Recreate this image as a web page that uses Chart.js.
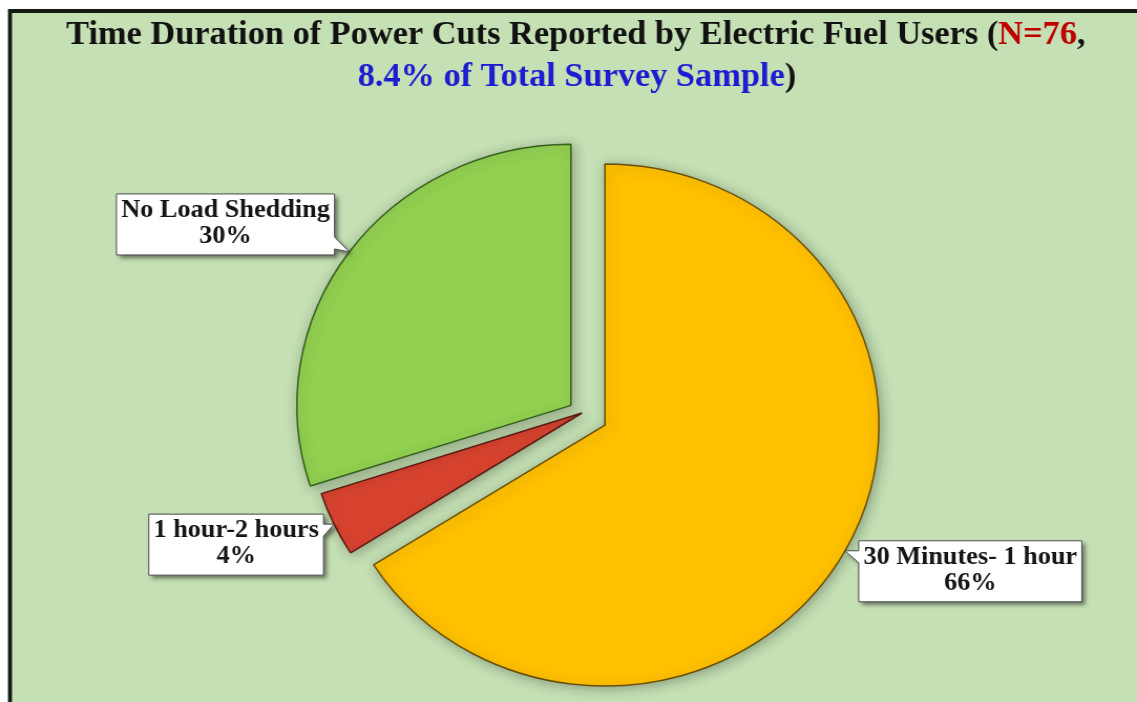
<!DOCTYPE html>
<html>
<head>
<meta charset="utf-8">
<title>Time Duration of Power Cuts</title>
<script src="https://cdn.jsdelivr.net/npm/chart.js@4.4.1/dist/chart.umd.min.js"></script>
<style>
  html, body { margin: 0; padding: 0; background: #ffffff; overflow: hidden; }
</style>
</head>
<body>
<canvas id="chart" width="1083" height="702" style="display:block;width:1137px;height:702px"></canvas>
<script>
// Survey answers: how long power cuts last for electric fuel users
const categories = ['30 Minutes- 1 hour', '1 hour-2 hours', 'No Load Shedding'];
const shares = [66, 4, 30];

// Title pieces (text, colour)
const titleLine1 = [
  ['Time Duration of Power Cuts Reported by Electric Fuel Users (', '#111111'],
  ['N=76', '#c00000'],
  [',', '#111111']
];
const titleLine2 = [
  ['8.4% of Total Survey Sample', '#1c1cd2'],
  [')', '#111111']
];

// Styling
const sliceColors = ['#ffc000', '#d8432f', '#92d050'];
const sliceEdges = ['#6a5006', '#5e1a12', '#36601d'];
const explodeBy = [25, 0, 13];          // how far each slice is pulled out, px
const calloutPlacement = [              // box position relative to the pointer tip
  { side: 'right', dx: 13, dy: -10 },
  { side: 'left', dx: -10, dy: -10 },
  { side: 'left', dx: -14, dy: -58 }
];
const SERIF = '"Liberation Serif", "Times New Roman", serif';

// Panel background with the dark frame on the top and left edges
const framePlugin = {
  id: 'frame',
  beforeDraw(chart) {
    const { ctx, width, height } = chart;
    ctx.save();
    ctx.fillStyle = '#ffffff';
    ctx.fillRect(0, 0, width, height);
    ctx.fillStyle = '#141a12';
    ctx.fillRect(7.6, 9, width, height);
    ctx.fillStyle = '#c5e0b4';
    ctx.fillRect(11.4, 13, width, height);
    ctx.restore();
  }
};

// Two-line title with coloured runs
function drawRuns(ctx, runs, cx, baseline, targetWidth) {
  const total = runs.reduce((s, r) => s + ctx.measureText(r[0]).width, 0);
  const sx = targetWidth ? targetWidth / total : 1;
  ctx.save();
  ctx.translate(cx, baseline);
  ctx.scale(sx, 1);
  let x = -total / 2;
  for (const [text, color] of runs) {
    ctx.fillStyle = color;
    ctx.fillText(text, x, 0);
    x += ctx.measureText(text).width;
  }
  ctx.restore();
}

const titlePlugin = {
  id: 'twoToneTitle',
  afterDraw(chart) {
    const { ctx } = chart;
    ctx.save();
    ctx.font = 'bold 34px ' + SERIF;
    ctx.textBaseline = 'alphabetic';
    ctx.textAlign = 'left';
    const w1 = titleLine1.reduce((s, r) => s + ctx.measureText(r[0]).width, 0);
    const sx = 971 / w1;
    drawRuns(ctx, titleLine1, 548.5, 44, 971);
    const w2 = titleLine2.reduce((s, r) => s + ctx.measureText(r[0]).width, 0);
    drawRuns(ctx, titleLine2, 549.5, 86, w2 * sx);
    ctx.restore();
  }
};

// Pull slices out along their bisector and give them a soft shadow
const explodePlugin = {
  id: 'explode',
  afterDatasetsUpdate(chart) {
    chart.getDatasetMeta(0).data.forEach((arc, i) => {
      const mid = (arc.startAngle + arc.endAngle) / 2;
      arc.x += Math.cos(mid) * explodeBy[i];
      arc.y += Math.sin(mid) * explodeBy[i];
    });
  },
  beforeDatasetsDraw(chart) {
    const { ctx } = chart;
    ctx.save();
    ctx.shadowColor = 'rgba(40, 50, 40, 0.35)';
    ctx.shadowBlur = 12;
    ctx.shadowOffsetX = 2;
    ctx.shadowOffsetY = 2;
  },
  afterDatasetsDraw(chart) {
    chart.ctx.restore();
  }
};

// Callout boxes pointing at each slice
const calloutPlugin = {
  id: 'callouts',
  afterDatasetsDraw(chart) {
    const { ctx } = chart;
    const arcs = chart.getDatasetMeta(0).data;
    ctx.save();
    ctx.font = 'bold 25px ' + SERIF;
    arcs.forEach((arc, i) => {
      const mid = (arc.startAngle + arc.endAngle) / 2;
      const tipX = arc.x + Math.cos(mid) * arc.outerRadius;
      const tipY = arc.y + Math.sin(mid) * arc.outerRadius;
      const lines = [categories[i], shares[i] + '%'];
      const w = Math.max(...lines.map(t => ctx.measureText(t).width)) + 9;
      const h = 61;
      const p = calloutPlacement[i];
      let L, R;
      if (p.side === 'right') { L = tipX + p.dx; R = L + w; }
      else { R = tipX + p.dx; L = R - w; }
      const T = tipY + p.dy, B = T + h;
      const by = Math.min(Math.max(tipY, T + 6), B - 18);

      ctx.beginPath();
      ctx.moveTo(L, T);
      ctx.lineTo(R, T);
      if (p.side === 'left') {
        ctx.lineTo(R, by);
        ctx.lineTo(tipX, tipY);
        ctx.lineTo(R, by + 12);
      }
      ctx.lineTo(R, B);
      ctx.lineTo(L, B);
      if (p.side === 'right') {
        ctx.lineTo(L, by + 12);
        ctx.lineTo(tipX, tipY);
        ctx.lineTo(L, by);
      }
      ctx.closePath();

      ctx.save();
      ctx.shadowColor = 'rgba(0, 0, 0, 0.5)';
      ctx.shadowBlur = 4;
      ctx.shadowOffsetX = 3;
      ctx.shadowOffsetY = 3;
      ctx.fillStyle = '#ffffff';
      ctx.fill();
      ctx.restore();
      ctx.lineWidth = 1;
      ctx.strokeStyle = '#4d4d4d';
      ctx.stroke();

      ctx.fillStyle = '#151515';
      ctx.textAlign = 'center';
      ctx.textBaseline = 'alphabetic';
      const cx = (L + R) / 2;
      ctx.fillText(lines[0], cx, T + 23);
      ctx.fillText(lines[1], cx, T + 49);
    });
    ctx.restore();
  }
};

new Chart(document.getElementById('chart'), {
  type: 'pie',
  data: {
    labels: categories,
    datasets: [{
      data: shares,
      backgroundColor: sliceColors,
      borderColor: sliceEdges,
      borderWidth: 1.5
    }]
  },
  options: {
    responsive: false,
    animation: false,
    events: [],
    radius: 261,
    layout: { padding: { top: 140, bottom: 16, left: 100, right: 74.4 } },
    plugins: {
      legend: { display: false },
      title: { display: false },
      tooltip: { enabled: false }
    }
  },
  plugins: [framePlugin, explodePlugin, calloutPlugin, titlePlugin]
});
</script>
</body>
</html>
